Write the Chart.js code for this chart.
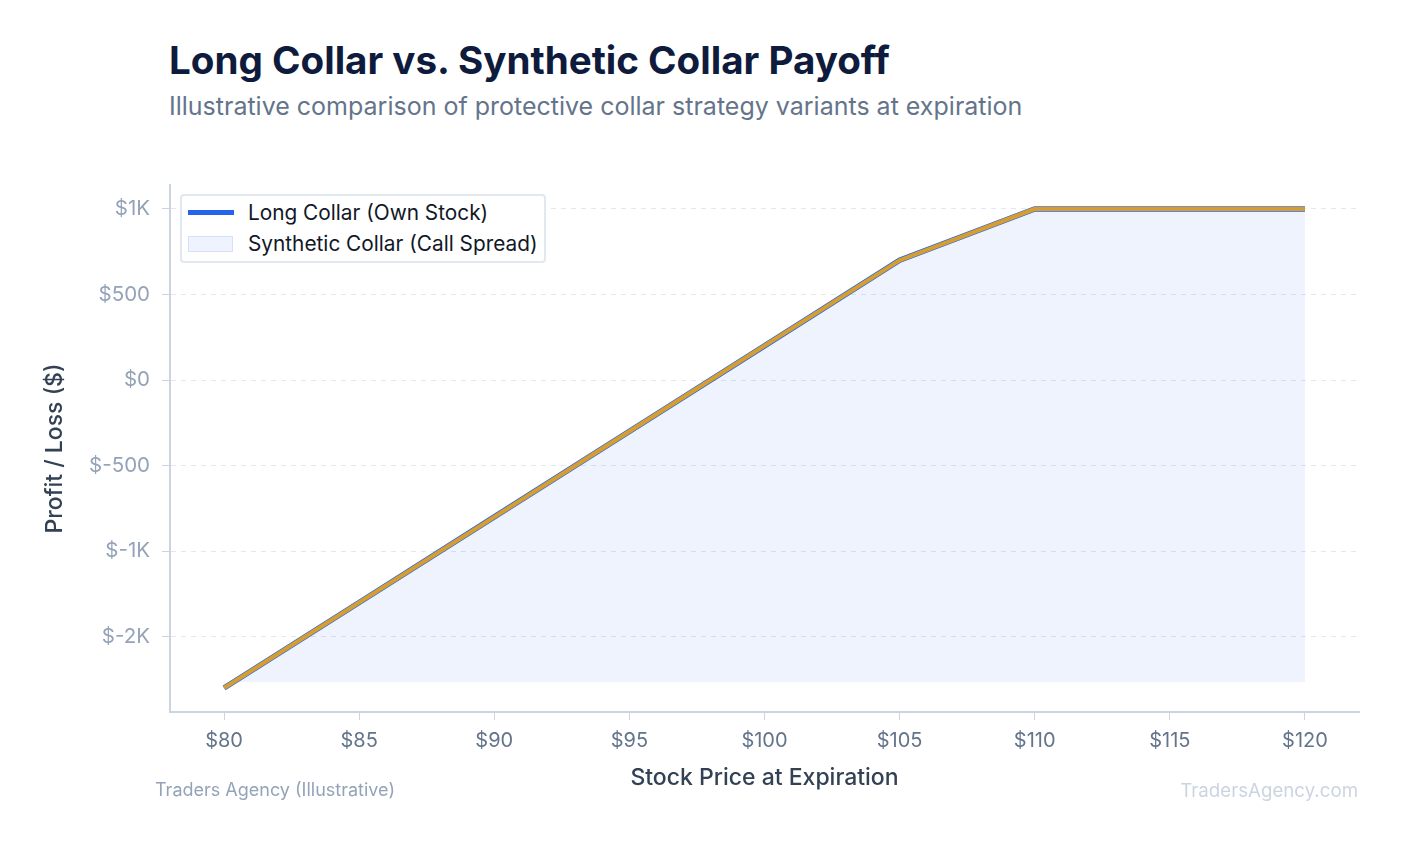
<!DOCTYPE html>
<html>
<head>
<meta charset="utf-8">
<script src="https://cdn.jsdelivr.net/npm/chart.js@4.4.1/dist/chart.umd.min.js"></script>
<style>
    body { margin: 0; background: #fff; font-family: Inter, sans-serif; }
    #page { position: relative; width: 1404px; height: 845px; overflow: hidden; }
    #title { position: absolute; left: 169px; top: 41px; font-size: 38.6px; font-weight: 700; color: #0f1b3d; line-height: 1; }
    #subtitle { position: absolute; left: 169px; top: 94px; font-size: 25px; color: #64748b; line-height: 1; }
    #chartBox { position: absolute; left: 0; top: 150px; width: 1404px; height: 650px; }
    #legend { position: absolute; left: 180px; top: 194px; width: 362px; height: 65px; border: 2px solid #e2e8f0; border-radius: 4px; background: #fff; }
    .item { position: absolute; left: 6px; height: 24px; font-size: 20.8px; color: #111827; line-height: 24px; }
    .item span { position: absolute; left: 60px; white-space: nowrap; }
    .swatch { position: absolute; left: 0; }
    #footLeft { position: absolute; left: 155px; top: 779px; font-size: 18px; color: #94a3b8; }
    #footRight { position: absolute; right: 46px; top: 779px; font-size: 18.7px; color: #cbd5e1; }
</style>
</head>
<body>
<div id="page">
    <div id="title">Long Collar vs. Synthetic Collar Payoff</div>
    <div id="subtitle">Illustrative comparison of protective collar strategy variants at expiration</div>
    <div id="chartBox"><canvas id="payoffChart"></canvas></div>
    <div id="legend"></div>
    <div id="footLeft">Traders Agency (Illustrative)</div>
    <div id="footRight">TradersAgency.com</div>
</div>
<script>
// stock price at expiration, $
var prices = [80, 85, 90, 95, 100, 105, 110, 115, 120];
// profit / loss, $
var longCollar = [-1800, -1300, -800, -300, 200, 700, 1000, 1000, 1000];
var syntheticCollar = [-1800, -1300, -800, -300, 200, 700, 1000, 1000, 1000];

// y tick values shown on the axis
var yTicks = [-1500, -1000, -500, 0, 500, 1000];

var seriesNames = ['Long Collar (Own Stock)', 'Synthetic Collar (Call Spread)'];

var blue = '#2563eb';
var gold = '#d69e2e';
var fillBlue = 'rgba(37, 99, 235, 0.08)';

function points(values) {
    return prices.map(function (p, i) {
        return { x: p, y: values[i] };
    });
}

function money(v) {
    if (Math.abs(v) >= 1000) {
        return '$' + (v / 1000).toFixed(0) + 'K';
    }
    return '$' + v;
}

// 5% breathing room around the data, like chart.js grace
var allY = longCollar.concat(syntheticCollar);
var yLo = Math.min.apply(null, allY), yHi = Math.max.apply(null, allY);
var yPad = (yHi - yLo) * 0.05;
var xPad = (prices[prices.length - 1] - prices[0]) * 0.05;

Chart.defaults.font.family = 'Inter, sans-serif';

new Chart(document.getElementById('payoffChart'), {
    type: 'line',
    data: {
        datasets: [{
            label: seriesNames[0],
            data: points(longCollar),
            borderColor: blue,
            borderWidth: 5.5,
            pointRadius: 0,
            fill: false,
            order: 3
        }, {
            label: seriesNames[1],
            data: points(syntheticCollar),
            borderColor: 'rgba(37, 99, 235, 0.12)',
            backgroundColor: fillBlue,
            borderWidth: 1,
            pointRadius: 0,
            fill: { value: yLo + yPad * 0.25 },
            order: 4
        }, {
            label: 'overlay',
            data: points(syntheticCollar),
            borderColor: gold,
            borderWidth: 4.2,
            pointRadius: 0,
            fill: false,
            order: 1
        }]
    },
    options: {
        responsive: true,
        maintainAspectRatio: false,
        animation: false,
        layout: { padding: { left: 30, right: 45, top: 35, bottom: 8 } },
        plugins: {
            legend: { display: false },
            tooltip: { enabled: false }
        },
        scales: {
            x: {
                type: 'linear',
                min: prices[0] - xPad,
                max: prices[prices.length - 1] + xPad,
                afterBuildTicks: function (axis) {
                    axis.ticks = prices.map(function (v) { return { value: v }; });
                },
                afterFit: function (axis) { axis.height = 80; },
                grid: { drawOnChartArea: false, color: '#cbd5e1', tickLength: 8 },
                border: { color: '#cbd5e1', width: 2 },
                ticks: {
                    color: '#64748b',
                    font: { size: 20 },
                    padding: 9,
                    callback: function (v) { return '$' + v; }
                },
                title: {
                    display: true,
                    text: 'Stock Price at Expiration',
                    color: '#334155',
                    font: { size: 23, weight: 500 },
                    padding: { top: 4, bottom: 0 }
                }
            },
            y: {
                min: yLo - yPad,
                max: yHi + yPad,
                afterBuildTicks: function (axis) {
                    axis.ticks = yTicks.map(function (v) { return { value: v }; });
                },
                afterFit: function (axis) { axis.width = 140; },
                grid: { color: '#e2e8f0', tickColor: '#cbd5e1', tickLength: 8 },
                border: { color: '#cbd5e1', width: 2, dash: [5, 5] },
                ticks: {
                    color: '#94a3b8',
                    font: { size: 20.5 },
                    padding: 12,
                    callback: money
                },
                title: {
                    display: true,
                    text: 'Profit / Loss ($)',
                    color: '#334155',
                    font: { size: 23, weight: 500 },
                    padding: { top: 11, bottom: 0 }
                }
            }
        }
    }
});

// legend drawn inside the plot, top left
var legendHtml = '';
legendHtml += '<div class="item" style="top:5px"><div class="swatch" style="top:9px;width:46px;height:5px;background:' + blue + '"></div><span>' + seriesNames[0] + '</span></div>';
legendHtml += '<div class="item" style="top:36px"><div class="swatch" style="top:4px;width:43px;height:14px;background:' + fillBlue + ';border:1px solid rgba(37,99,235,0.12)"></div><span>' + seriesNames[1] + '</span></div>';
document.getElementById('legend').innerHTML = legendHtml;
</script>
</body>
</html>
